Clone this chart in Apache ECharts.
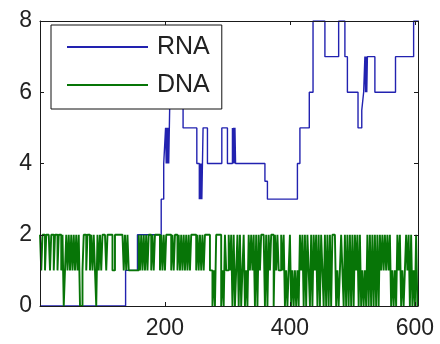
<!DOCTYPE html>
<html>
<head>
<meta charset="utf-8">
<script src="https://cdn.jsdelivr.net/npm/echarts@6/dist/echarts.min.js"></script>
<style>
html, body { margin: 0; padding: 0; background: #fff; }
#chart { width: 440px; height: 344px; }
</style>
</head>
<body>
<div id="chart"></div>
<script>
// RNA: step changes (x where the new value starts)
const rnaX = [0, 137, 156, 194, 198, 201, 202, 203, 204, 205, 206, 207, 208, 212, 218, 229,
    251, 255, 256, 257, 258, 259, 261, 268, 291, 300, 308, 309, 310, 311, 312, 313,
    360, 364, 412, 416, 431, 437, 456, 478, 488, 492, 509, 515, 518, 520, 521, 522,
    523, 524, 536, 569, 598, 605]
const rnaY = [0, 1, 2, 3, 4, 5, 4, 5, 4, 5, 4, 5, 6, 7, 6, 5,
    4, 3, 4, 3, 4, 3, 5, 4, 5, 4, 5, 4, 5, 4, 5, 4,
    3.5, 3, 4, 5, 6, 8, 7, 8, 7, 6, 5, 5.5, 6, 7, 6, 7,
    6, 7, 6, 7, 8, 8]

const dnaBinWidth = 2
const dnaLevels = [
    "2122122212", "2122122120", "1212121212", "1200122122", "1212102121",
    "2221222211", "2222222121", "2111111112", "1212121221", "2122221212",
    "1222212122", "1212121212", "1222212121", "2122221101", "0222201021",
    "1212020120", "2012010212", "1202021222", "0202122021", "2112120101",
    "2010101021", "2020210202", "1202021020", "2020222010", "1210202020",
    "2021202010", "1020202020", "2021212121", "2010102120", "1012120201",
    "020"
]

const xMax = 605
const xTicks = [200, 400, 600]
const yTicks = [0, 2, 4, 6, 8]

let rnaData = rnaX.map((x, i) => [x, rnaY[i]])
let dnaValues = dnaLevels.join("").split("").map(Number)
let dnaData = dnaValues.map((v, i) => [i * dnaBinWidth, v])
dnaData.push([xMax, dnaValues[dnaValues.length - 1]])

let myChart = echarts.init(document.getElementById("chart"))

let tickLabel = {
    fontSize: 23,
    fontFamily: "Liberation Sans",
    color: "#222"
}
let frameLine = { show: true, onZero: false, lineStyle: { color: "#1a1a1a", width: 1 } }
let frameTick = { show: true, inside: true, length: 4, lineStyle: { color: "#1a1a1a" } }

let option = {
    animation: false,
    grid: {
        left: 40, right: 22, top: 21, bottom: 38,
        containLabel: false,
        outerBoundsMode: "none"
    },
    legend: {
        data: ["RNA", "DNA"],
        orient: "vertical",
        left: 51,
        top: 25,
        z: 20,
        icon: "rect",
        itemWidth: 81,
        itemHeight: 2,
        itemGap: 10,
        padding: [8, 12, 10, 16],
        borderColor: "#111",
        borderWidth: 1,
        backgroundColor: "#fff",
        selectedMode: false,
        textStyle: {
            fontSize: 25,
            fontFamily: "Liberation Sans",
            color: "#222",
            lineHeight: 28,
            padding: [0, 0, 0, 4]
        }
    },
    xAxis: [{
        type: "value",
        min: 0,
        max: xMax,
        interval: 200,
        z: 10,
        axisLine: frameLine,
        axisTick: frameTick,
        splitLine: { show: false },
        axisLabel: Object.assign({
            margin: 11,
            formatter: v => xTicks.includes(v) ? String(v) : ""
        }, tickLabel)
    }, {
        type: "value",
        position: "top",
        min: 0,
        max: xMax,
        interval: 200,
        z: 10,
        axisLine: frameLine,
        axisTick: frameTick,
        splitLine: { show: false },
        axisLabel: { show: false }
    }],
    yAxis: [{
        type: "value",
        min: 0,
        max: 8,
        interval: 2,
        z: 10,
        axisLine: frameLine,
        axisTick: frameTick,
        splitLine: { show: false },
        axisLabel: Object.assign({
            margin: 8,
            formatter: v => yTicks.includes(v) ? String(v) : ""
        }, tickLabel)
    }, {
        type: "value",
        position: "right",
        min: 0,
        max: 8,
        interval: 2,
        z: 10,
        axisLine: frameLine,
        axisTick: frameTick,
        splitLine: { show: false },
        axisLabel: { show: false }
    }],
    series: [{
        name: "RNA",
        type: "line",
        step: "end",
        data: rnaData,
        showSymbol: false,
        silent: true,
        color: "#2222b0",
        lineStyle: { width: 1.4, color: "#2222b0" }
    }, {
        name: "DNA",
        type: "line",
        step: "end",
        data: dnaData,
        showSymbol: false,
        silent: true,
        color: "#077507",
        lineStyle: { width: 1.9, color: "#077507" }
    }]
}
myChart.setOption(option)
</script>
</body>
</html>
